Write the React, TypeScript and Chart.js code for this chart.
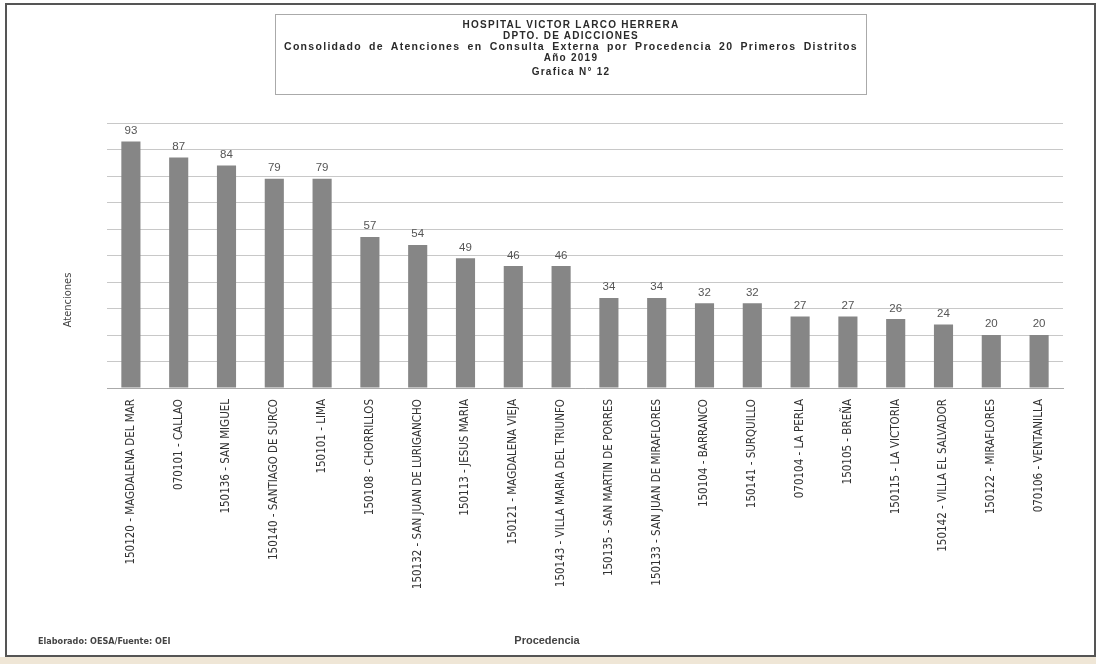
import React, { useEffect, useRef } from "react";
import { Chart, registerables } from "chart.js";

Chart.register(...registerables);

const categories: string[] = [
  "150120 - MAGDALENA DEL MAR",
  "070101 - CALLAO",
  "150136 - SAN MIGUEL",
  "150140 - SANTIAGO DE SURCO",
  "150101 - LIMA",
  "150108 - CHORRILLOS",
  "150132 - SAN JUAN DE LURIGANCHO",
  "150113 - JESUS MARIA",
  "150121 - MAGDALENA VIEJA",
  "150143 - VILLA MARIA DEL TRIUNFO",
  "150135 - SAN MARTIN DE PORRES",
  "150133 - SAN JUAN DE MIRAFLORES",
  "150104 - BARRANCO",
  "150141 - SURQUILLO",
  "070104 - LA PERLA",
  "150105 - BREÑA",
  "150115 - LA VICTORIA",
  "150142 - VILLA EL SALVADOR",
  "150122 - MIRAFLORES",
  "070106 - VENTANILLA",
];

const atenciones: number[] = [93, 87, 84, 79, 79, 57, 54, 49, 46, 46, 34, 34, 32, 32, 27, 27, 26, 24, 20, 20];

const yMin = 0;
const yMax = 100;
const yStep = 10;

const titleLines: string[] = [
  "HOSPITAL VICTOR LARCO HERRERA",
  "DPTO. DE ADICCIONES",
  "Consolidado de Atenciones en Consulta Externa por Procedencia 20 Primeros Distritos",
  "Año 2019",
  "Grafica N° 12",
];
const yAxisTitle = "Atenciones";
const xAxisTitle = "Procedencia";
const sourceNote = "Elaborado: OESA/Fuente: OEI";

const narrow = '"Liberation Sans Narrow", "DejaVu Sans Condensed", "Liberation Sans", Arial, sans-serif';
const sans = '"Liberation Sans", Arial, sans-serif';

const valueLabels = {
  id: "valueLabels",
  afterDatasetsDraw(chart: any) {
    const ctx = chart.ctx;
    const meta = chart.getDatasetMeta(0);
    ctx.save();
    ctx.font = `11.5px ${sans}`;
    ctx.fillStyle = "#555";
    ctx.textAlign = "center";
    ctx.textBaseline = "bottom";
    meta.data.forEach((el: any, i: number) => {
      ctx.fillText(String(chart.data.datasets[0].data[i]), el.x, el.y - 5);
    });
    ctx.restore();
  },
};

export default function App() {
  const ref = useRef<HTMLCanvasElement | null>(null);

  useEffect(() => {
    if (!ref.current) return;
    const chart = new Chart(ref.current, {
      type: "bar",
      data: {
        labels: categories,
        datasets: [
          {
            label: yAxisTitle,
            data: atenciones,
            backgroundColor: "#868686",
            borderWidth: 0,
            barPercentage: 0.4,
            categoryPercentage: 1,
          },
        ],
      },
      options: {
        responsive: false,
        animation: false,
        layout: { padding: { top: 123, right: 33, bottom: 14, left: 8 } },
        plugins: {
          legend: { display: false },
          title: { display: false },
          tooltip: { enabled: false },
        },
        scales: {
          x: {
            grid: { display: false },
            border: { display: true, color: "#aaa" },
            ticks: {
              autoSkip: false,
              minRotation: 90,
              maxRotation: 90,
              padding: 3,
              color: "#333",
              font: { family: narrow, size: 11.5 },
            },
            afterFit: (s: any) => {
              s.height = 262;
            },
          },
          y: {
            min: yMin,
            max: yMax,
            ticks: { display: false, stepSize: yStep },
            grid: { color: "#c8c8c8", lineWidth: 1, drawTicks: false },
            border: { display: false },
            afterFit: (s: any) => {
              s.width = 99;
            },
          },
        },
      },
      plugins: [valueLabels],
    });
    return () => chart.destroy();
  }, []);

  return (
    <div style={{ position: "fixed", left: 0, top: 0, width: 1096, height: 664, background: "#fff", overflow: "hidden" }}>
      <canvas ref={ref} width={1096} height={664} style={{ position: "absolute", left: 0, top: 0 }} />
      <div
        style={{
          position: "absolute",
          left: 5,
          top: 3,
          width: 1087,
          height: 650,
          border: "2px solid #555",
          pointerEvents: "none",
        }}
      />
      <div style={{ position: "absolute", left: 0, top: 657, width: 1096, height: 7, background: "#efe6d6" }} />
      <div
        style={{
          position: "absolute",
          left: 275,
          top: 14,
          width: 592,
          height: 81,
          border: "1px solid #aaa",
          boxSizing: "border-box",
          textAlign: "center",
          fontFamily: sans,
          fontWeight: "bold",
          fontSize: 10,
          letterSpacing: "1.25px",
          color: "#2a2a2a",
          paddingTop: 4,
          lineHeight: "11px",
        }}
      >
        {titleLines.map((t, i) => (
          <div
            key={i}
            style={{
              marginTop: i === titleLines.length - 1 ? 3 : 0,
              whiteSpace: "nowrap",
              fontSize: i === 2 ? 10.5 : 10,
              letterSpacing: i === 2 ? "1.3px" : "1.25px",
              wordSpacing: i === 2 ? "3px" : "0px",
            }}
          >
            {t}
          </div>
        ))}
      </div>
      <div
        style={{
          position: "absolute",
          left: 67,
          top: 300,
          transform: "translate(-50%, -50%) rotate(-90deg)",
          fontFamily: narrow,
          fontSize: 11,
          color: "#444",
          whiteSpace: "nowrap",
        }}
      >
        {yAxisTitle}
      </div>
      <div
        style={{
          position: "absolute",
          left: 547,
          top: 640,
          transform: "translate(-50%, -50%)",
          fontFamily: sans,
          fontWeight: "bold",
          fontSize: 11,
          color: "#444",
          whiteSpace: "nowrap",
        }}
      >
        {xAxisTitle}
      </div>
      <div
        style={{
          position: "absolute",
          left: 38,
          top: 641,
          transform: "translateY(-50%)",
          fontFamily: narrow,
          fontWeight: "bold",
          fontSize: 9,
          color: "#444",
          whiteSpace: "nowrap",
        }}
      >
        {sourceNote}
      </div>
    </div>
  );
}
